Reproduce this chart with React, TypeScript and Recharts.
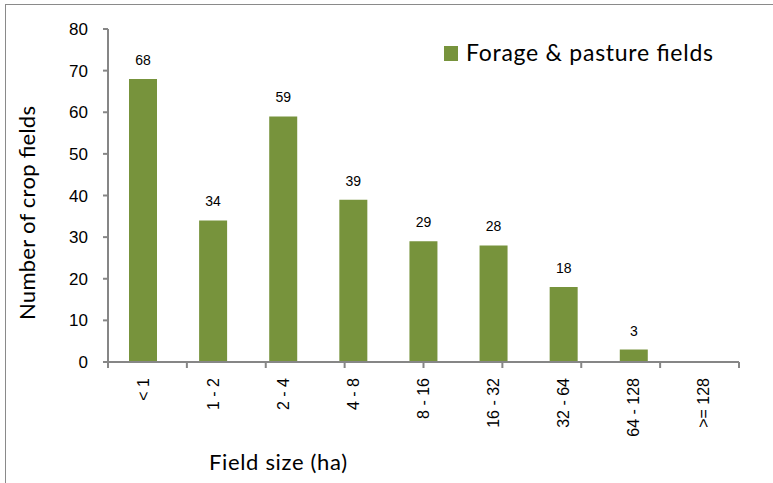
import React from 'react';
import { BarChart, Bar, XAxis, YAxis, LabelList, Label, Legend } from 'recharts';

const categories = ['< 1', '1 - 2', '2 - 4', '4 - 8', '8 - 16', '16 - 32', '32 - 64', '64 - 128', '>= 128'];
const forageFields: (number | null)[] = [68, 34, 59, 39, 29, 28, 18, 3, null];
const yTicks = [0, 10, 20, 30, 40, 50, 60, 70, 80];
const binEdges = [0, 1, 2, 3, 4, 5, 6, 7, 8, 9];

const seriesName = 'Forage & pasture fields';
const xTitle = 'Field size (ha)';
const yTitle = 'Number of crop fields';

const data = categories.map((c, i) => ({ size: c, forage: forageFields[i] }));

const GREEN = '#77933C';
const AXIS = '#868686';
const ARIAL = "'Liberation Sans', Arial, sans-serif";
const CALIBRI = "Lato, 'Open Sans', sans-serif";

function CategoryTick(props: any) {
  const { x, y, payload } = props;
  return (
    <text
      x={x}
      y={y}
      transform={`rotate(-90, ${x}, ${y})`}
      textAnchor="end"
      dominantBaseline="central"
      fontFamily={ARIAL}
      fontSize={16}
      fill="#000"
    >
      {payload.value}
    </text>
  );
}

function EmptyTick() {
  return <g />;
}

function LegendContent() {
  return (
    <svg width={320} height={40} style={{ display: 'block', overflow: 'visible' }}>
      <rect x={0} y={4} width={14} height={15} fill={GREEN} />
      <text x={22} y={19} fontFamily={CALIBRI} fontSize={23} fill="#000" textLength={247} lengthAdjust="spacing">
        {seriesName}
      </text>
    </svg>
  );
}

export default function App() {
  return (
    <div style={{ position: 'absolute', left: 0, top: 0, width: 773, height: 483, background: '#fff', overflow: 'hidden' }}>
      <div
        style={{
          position: 'absolute',
          left: 5,
          top: 4,
          width: 800,
          height: 500,
          borderLeft: '1.5px solid #8a8a8a',
          borderTop: '1.5px solid #8a8a8a',
        }}
      />
      <div style={{ position: 'absolute', left: 0, top: 0 }}>
        <BarChart width={773} height={483} data={data} margin={{ top: 29, right: 34, bottom: 0, left: 0 }}>
          <XAxis
            xAxisId="b"
            dataKey="size"
            type="category"
            height={115}
            interval={0}
            axisLine={false}
            tickLine={false}
            tickSize={0}
            tickMargin={10}
            tick={<CategoryTick />}
          >
            <Label
              content={(p: any) => {
                const vb = p.viewBox || { x: 108, y: 368, width: 631, height: 115 };
                return (
                  <text
                    x={vb.x + 170}
                    y={vb.y + 102}
                    textAnchor="middle"
                    fontFamily={CALIBRI}
                    fontSize={22}
                    fill="#000"
                    textLength={138}
                    lengthAdjust="spacing"
                  >
                    {xTitle}
                  </text>
                );
              }}
            />
          </XAxis>
          <XAxis
            xAxisId="a"
            type="number"
            domain={[0, 9]}
            ticks={binEdges}
            interval={0}
            height={6}
            tickSize={6}
            tick={EmptyTick}
            axisLine={{ stroke: AXIS, strokeWidth: 2 }}
            tickLine={{ stroke: AXIS, strokeWidth: 2 }}
            allowDataOverflow
          />
          <YAxis
            width={108}
            domain={[0, 80]}
            ticks={yTicks}
            interval={0}
            tickSize={5}
            tickMargin={15}
            axisLine={{ stroke: AXIS, strokeWidth: 2 }}
            tickLine={{ stroke: AXIS, strokeWidth: 2 }}
            tick={{ fontFamily: ARIAL, fontSize: 17, fill: '#000' }}
          >
            <Label
              content={(p: any) => {
                const vb = p.viewBox || { x: 0, y: 29, width: 108, height: 333 };
                const cx = vb.x + 35;
                const cy = vb.y + 184;
                return (
                  <text
                    x={cx}
                    y={cy}
                    transform={`rotate(-90, ${cx}, ${cy})`}
                    textAnchor="middle"
                    fontFamily={CALIBRI}
                    fontSize={22}
                    fill="#000"
                    textLength={214}
                    lengthAdjust="spacing"
                  >
                    {yTitle}
                  </text>
                );
              }}
            />
          </YAxis>
          <Legend
            layout="horizontal"
            align="center"
            verticalAlign="middle"
            content={<LegendContent />}
            wrapperStyle={{ position: 'absolute', left: 444, top: 42, width: 320, height: 40 }}
          />
          <Bar
            xAxisId="b"
            dataKey="forage"
            name={seriesName}
            fill={GREEN}
            barSize={28}
            isAnimationActive={false}
          >
            <LabelList dataKey="forage" position="top" offset={14} fontFamily={ARIAL} fontSize={14} fill="#000" />
          </Bar>
        </BarChart>
      </div>
    </div>
  );
}
